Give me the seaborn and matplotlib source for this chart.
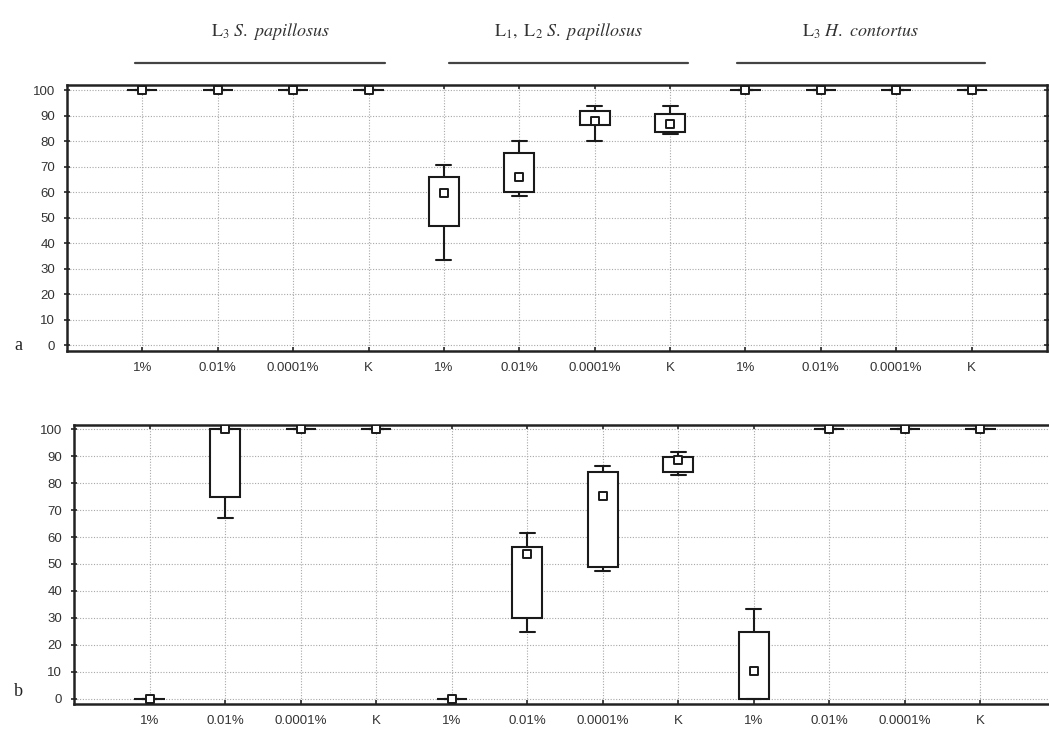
import pandas as pd
import numpy as np
import matplotlib
matplotlib.use("Agg")
import matplotlib.pyplot as plt
from matplotlib.lines import Line2D
import seaborn as sns

# categories
groups = ["L3 S. papillosus", "L1, L2 S. papillosus", "L3 H. contortus"]
conc = ["1%", "0.01%", "0.0001%", "K"]
group_titles = [r"$\mathrm{L}_3\ \mathit{S.\ papillosus}$",
                r"$\mathrm{L}_1,\ \mathrm{L}_2\ \mathit{S.\ papillosus}$",
                r"$\mathrm{L}_3\ \mathit{H.\ contortus}$"]

# panel a: min, lower quartile, median, upper quartile, max
a_min = [100, 100, 100, 100, 33.2, 58.6, 80.0, 82.6, 100, 100, 100, 100]
a_q1 = [100, 100, 100, 100, 46.8, 59.9, 86.3, 83.7, 100, 100, 100, 100]
a_med = [100, 100, 100, 100, 59.7, 65.8, 87.8, 86.9, 100, 100, 100, 100]
a_q3 = [100, 100, 100, 100, 65.8, 75.2, 91.9, 90.8, 100, 100, 100, 100]
a_max = [100, 100, 100, 100, 70.8, 79.9, 93.6, 93.6, 100, 100, 100, 100]

# panel b
b_min = [0, 67.0, 100, 100, 0, 24.8, 47.4, 83.0, 0, 100, 100, 100]
b_q1 = [0, 75.0, 100, 100, 0, 30.0, 48.8, 84.2, 0, 100, 100, 100]
b_med = [0, 100, 100, 100, 0, 53.6, 75.2, 88.6, 10.3, 100, 100, 100]
b_q3 = [0, 100, 100, 100, 0, 56.3, 84.3, 89.9, 24.8, 100, 100, 100]
b_max = [0, 100, 100, 100, 0, 61.4, 86.3, 91.6, 33.3, 100, 100, 100]

cats = [f"{g} {c}" for g in groups for c in conc]


def long_frame(mins, q1s, meds, q3s, maxs):
    # five points per category -> quartiles come out exactly (linear percentiles)
    rows = []
    for cat, vals in zip(cats, zip(mins, q1s, meds, q3s, maxs)):
        for v in vals:
            rows.append({"cat": cat, "val": v})
    return pd.DataFrame(rows)


sns.set_style("white")
plt.rcParams["font.family"] = ["Liberation Sans", "DejaVu Sans"]
plt.rcParams["mathtext.fontset"] = "stix"

fig = plt.figure(figsize=(10.49, 7.30), dpi=100)
W, H = 1049, 730
# axes boxes in pixels: left, top, right, bottom
ax_a = fig.add_axes([67 / W, 1 - 351 / H, (1047 - 67) / W, (351 - 85) / H])
ax_b = fig.add_axes([74 / W, 1 - 704 / H, (1056 - 74) / W, (704 - 425) / H])

panels = [(ax_a, (a_min, a_q1, a_med, a_q3, a_max), (-2.3, 102.0), 345, "a"),
          (ax_b, (b_min, b_q1, b_med, b_q3, b_max), (-2.0, 101.6), 692, "b")]

for ax, stats, ylim, letter_y, letter in panels:
    df = long_frame(*stats)
    sns.boxplot(data=df, x="cat", y="val", order=cats, whis=(0, 100),
                width=0.4, color="white", linecolor="#1a1a1a", linewidth=1.5,
                fliersize=0, medianprops=dict(linewidth=0), ax=ax)
    med = pd.DataFrame({"cat": cats, "val": stats[2]})
    sns.stripplot(data=med, x="cat", y="val", order=cats, jitter=False,
                  marker="s", size=6, color="white", edgecolor="#1a1a1a",
                  linewidth=1.4, ax=ax, zorder=5)

    ax.set_xlim(-1, 12)
    ax.set_ylim(*ylim)
    ax.set_yticks(range(0, 101, 10))
    ax.set_xticks(range(12))
    ax.set_xticklabels(conc * 3)
    ax.set_xlabel("")
    ax.set_ylabel("")
    ax.grid(True, linestyle=(0, (1, 1.5)), color="#a8a8a8", linewidth=0.8)
    ax.set_axisbelow(True)
    for s in ax.spines.values():
        s.set_visible(True)
        s.set_color("#222222")
        s.set_linewidth(1.8)
    ax.tick_params(axis="y", left=True, right=True, direction="inout", length=5,
                   width=1.2, labelsize=9.5, labelcolor="#333333", pad=6)
    ax.tick_params(axis="x", bottom=True, top=True, direction="in", length=3,
                   width=1.2, labelsize=9.5, labelcolor="#333333", pad=8)
    fig.text(14 / W, 1 - letter_y / H, letter, family="Liberation Serif",
             fontsize=13, ha="left", va="center", color="#222222")

# group headers above panel a
header_x = [(135, 385, 270), (449, 688, 568), (737, 985, 860)]
for (x0, x1, xc), title in zip(header_x, group_titles):
    fig.text(xc / W, 1 - 32 / H, title, ha="center", va="center",
             fontsize=13, color="#333333")
    fig.add_artist(Line2D([x0 / W, x1 / W], [1 - 63 / H, 1 - 63 / H],
                          transform=fig.transFigure, color="#444444",
                          linewidth=1.6))

fig.savefig("out.png", dpi=100)
